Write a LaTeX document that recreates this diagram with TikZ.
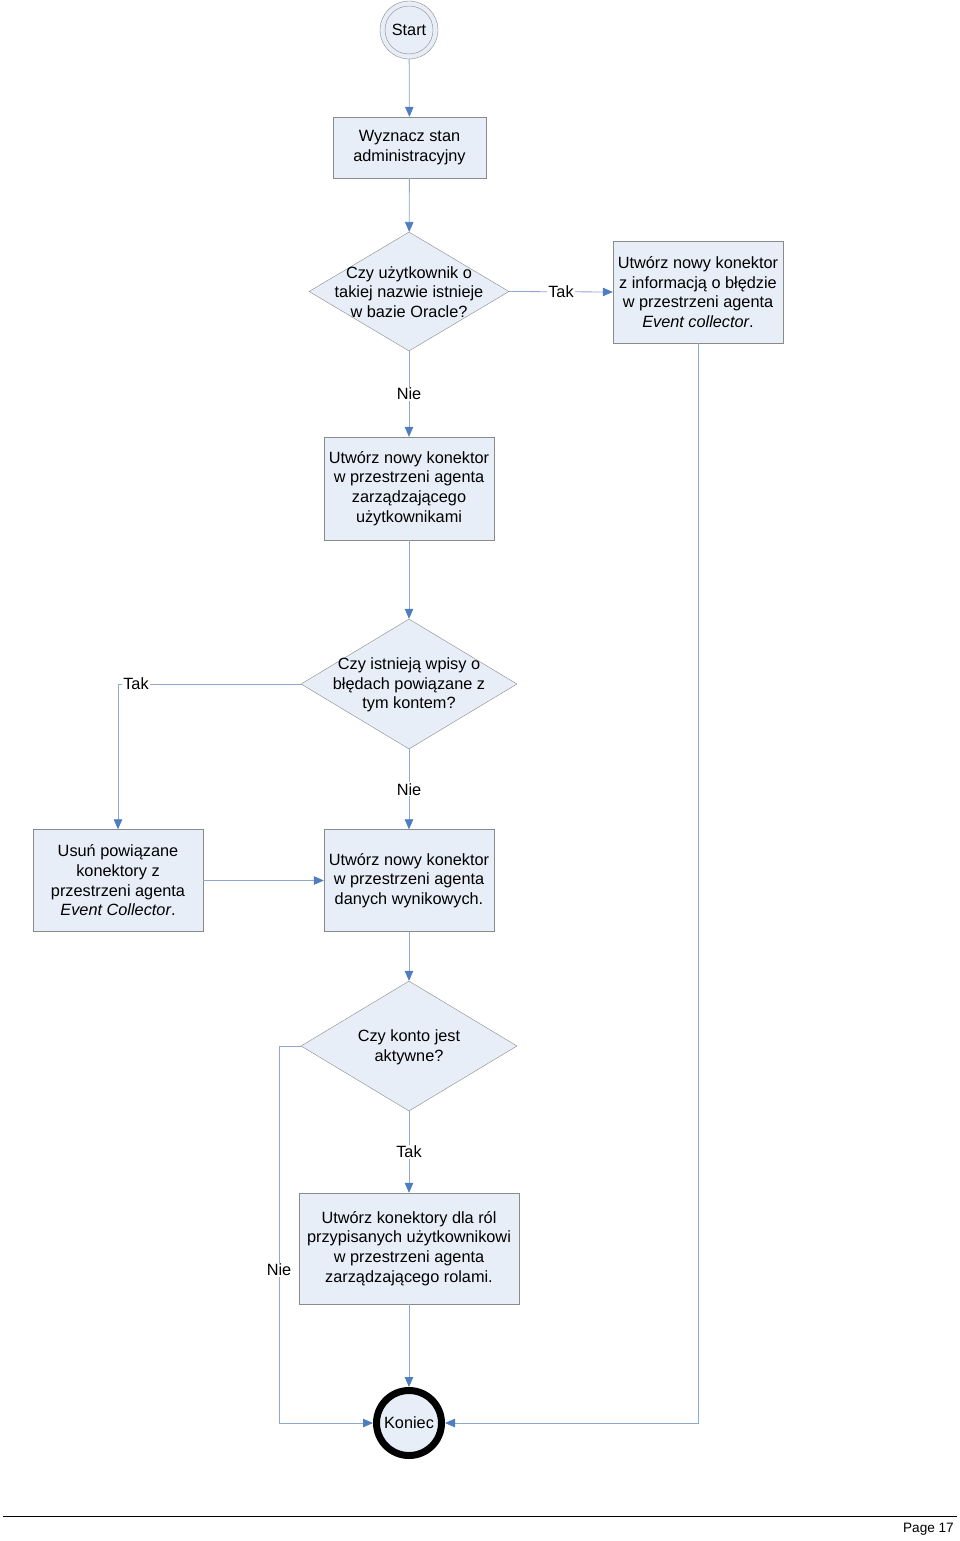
\documentclass[tikz,border=0pt]{standalone}
\usepackage{fontspec}
\setmainfont{Liberation Sans}
\usetikzlibrary{shapes.geometric,arrows.meta}
\definecolor{boxfill}{HTML}{E8EEF7}
\definecolor{boxline}{HTML}{8A8A8A}
\definecolor{conn}{HTML}{8FA8D0}
\definecolor{arrowc}{HTML}{4F7EC0}
\begin{document}
\begin{tikzpicture}[x=1pt,y=-1pt,
  every node/.style={font=\fontsize{16.3}{19.7}\selectfont},
  procbox/.style={draw=boxline,fill=boxfill,align=center,inner sep=0pt},
  decis/.style={draw=boxline,fill=boxfill,shape=diamond,inner sep=0pt},
  dtext/.style={align=center,inner sep=0pt},
  lab/.style={fill=white,inner sep=1pt},
  conline/.style={draw=conn,line width=0.8pt},
  arr/.style={conline,-{Triangle[length=10pt,width=8.5pt,color=arrowc]}}
]
\useasboundingbox (0,0) rectangle (960,1541);
\fill[white] (0,0) rectangle (960,1541);

% nodes
\node[circle,draw=boxline,fill=boxfill,minimum size=58pt,inner sep=0pt] (start) at (409,30) {};
\node[circle,draw=boxline,minimum size=48pt,inner sep=0pt] (startin) at (409,30) {Start};

\node[procbox,minimum width=153pt,minimum height=61pt] (b1) at (409.5,147.5) {Wyznacz stan\\administracyjny};

\node[decis,minimum width=200pt,minimum height=119pt] (d1) at (409,291.5) {};
\node[dtext] (d1t) at (409,292) {Czy użytkownik o\\takiej nazwie istnieje\\w bazie Oracle?};

\node[procbox,minimum width=170pt,minimum height=102pt] (err) at (698,292) {Utwórz nowy konektor\\z informacją o błędzie\\w przestrzeni agenta\\\textit{Event collector}.};

\node[procbox,minimum width=170pt,minimum height=103pt] (b3) at (409,488.5) {Utwórz nowy konektor\\w przestrzeni agenta\\zarządzającego\\użytkownikami};

\node[decis,minimum width=216pt,minimum height=130pt] (d2) at (409,684) {};
\node[dtext] (d2t) at (409,685) {Czy istnieją wpisy o\\błędach powiązane z\\tym kontem?};

\node[procbox,minimum width=170pt,minimum height=102pt] (lb) at (118,880.5) {Usuń powiązane\\konektory z\\przestrzeni agenta\\\textit{Event Collector}.};

\node[procbox,minimum width=170pt,minimum height=102pt] (b4) at (409,880.5) {Utwórz nowy konektor\\w przestrzeni agenta\\danych wynikowych.};

\node[decis,minimum width=216pt,minimum height=130pt] (d3) at (409,1046) {};
\node[dtext] (d3t) at (409,1047) {Czy konto jest\\aktywne?};

\node[procbox,minimum width=220pt,minimum height=111pt] (b5) at (409,1248.5) {Utwórz konektory dla ról\\przypisanych użytkownikowi\\w przestrzeni agenta\\zarządzającego rolami.};

\node[circle,draw=black,line width=7pt,fill=boxfill,minimum size=65pt,inner sep=0pt] (end) at (409,1423) {Koniec};

\coordinate (c3) at (279,1046);

% connectors
\draw[arr] (start) -- (b1);
\draw[arr] (b1) -- (d1);
\draw[arr] (d1.east) -- node[lab] (t1) {Tak} (err.west);
\draw[arr] (d1.south) -- node[lab] (n1) {Nie} (b3.north);
\draw[arr] (b3) -- (d2);
\draw[arr] (d2.west) -| (lb.north);
\node[lab] (t2) at (136,684) {Tak};
\draw[arr] (d2.south) -- node[lab] (n2) {Nie} (b4.north);
\draw[arr] (lb.east) -- (b4.west);
\draw[arr] (b4) -- (d3);
\draw[arr] (d3.south) -- node[lab] (t3) {Tak} (b5.north);
\draw[arr] (d3.west) -- (c3) |- (end.west);
\node[lab] (n3) at (279,1270) {Nie};
\draw[arr] (b5.south) -- (end.north);
\draw[arr] (err.south) |- (end.east);

% footer
\coordinate (fl) at (3,1516);
\coordinate (fr) at (957,1516);
\draw[black,line width=0.8pt] (fl) -- (fr);
\node[anchor=east,inner sep=0pt,font=\fontsize{13.6}{16}\selectfont] (pg) at (954,1529) {Page 17};
\end{tikzpicture}
\end{document}
